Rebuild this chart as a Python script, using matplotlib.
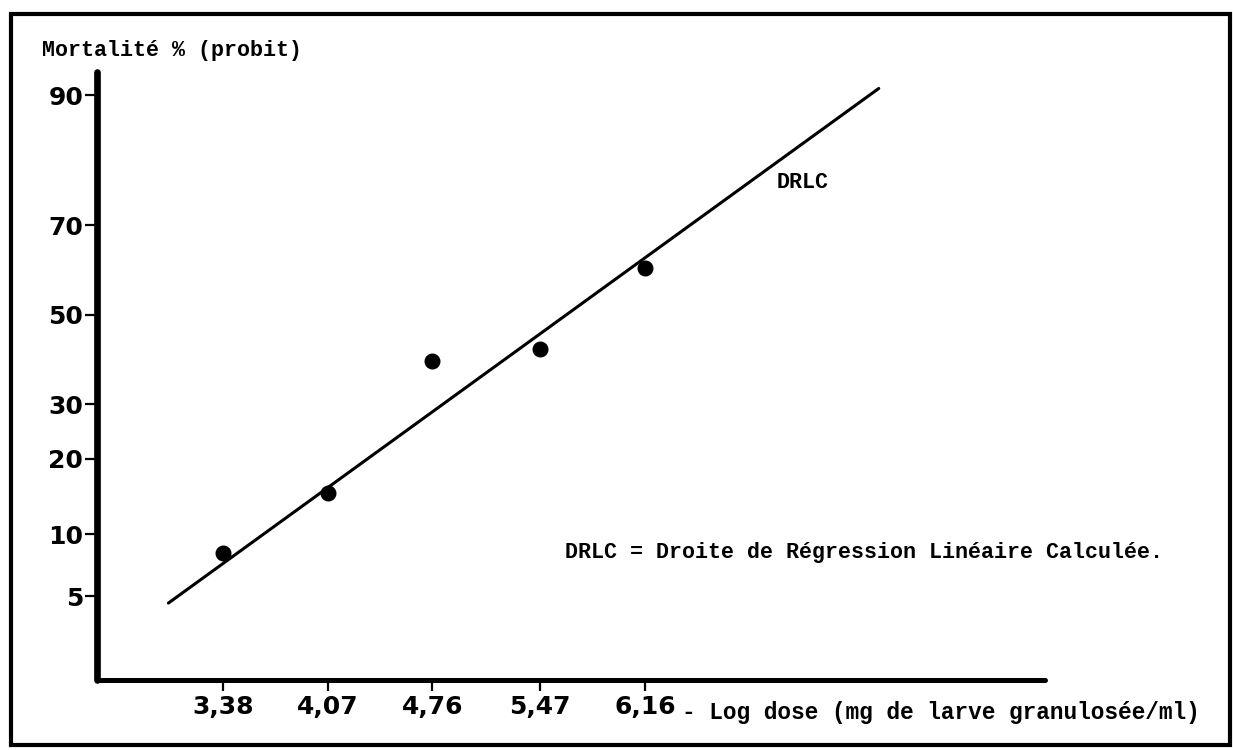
import math
import numpy as np
import matplotlib
matplotlib.use("Agg")
import matplotlib.pyplot as plt
from matplotlib.patches import Rectangle

# data
log_dose = [3.38, 4.07, 4.76, 5.47, 6.16]
dose_labels = ["3,38", "4,07", "4,76", "5,47", "6,16"]
mortality = [8.2, 14.9, 39.4, 42.1, 60.8]  # % mortality

# end points of the calculated regression line (DRLC)
drlc_x = [3.02, 7.70]
drlc_y = [4.6, 90.7]

y_ticks = [5, 10, 20, 30, 50, 70, 90]

# probit scale helpers
_z = np.linspace(-7, 7, 4001)
_erf = np.vectorize(math.erf)
_cdf = 0.5 * (1 + _erf(_z / math.sqrt(2)))


def probit(pct):
    p = np.asarray(pct, dtype=float) / 100.0
    return np.interp(p, _cdf, _z)


def inv_probit(z):
    z = np.asarray(z, dtype=float)
    return 100.0 * 0.5 * (1 + _erf(z / math.sqrt(2)))


mono = "Liberation Mono"
sans = "DejaVu Sans"

fig = plt.figure(figsize=(12.33, 7.5), dpi=100)
ax = fig.add_axes([0.0787, 0.0933, 0.7688, 0.8107])
ax.set_yscale("function", functions=(probit, inv_probit))

ax.plot(drlc_x, drlc_y, color="black", lw=2.2, solid_capstyle="round")
ax.plot(log_dose, mortality, "o", color="black", markersize=10.5)

ax.set_xlim(2.55, 8.795)
ax.set_ylim(1.64, 92.2)

ax.set_xticks(log_dose)
ax.set_xticklabels(dose_labels)
ax.set_yticks(y_ticks)
ax.set_yticklabels([str(v) for v in y_ticks])
ax.minorticks_off()

ax.tick_params(axis="y", direction="out", length=9, width=1.6, pad=1)
ax.tick_params(axis="x", direction="out", length=8, width=1.6, pad=3)
for lab in ax.get_xticklabels() + ax.get_yticklabels():
    lab.set_fontfamily(sans)
    lab.set_fontweight("bold")
    lab.set_fontsize(18)

for side in ["top", "right"]:
    ax.spines[side].set_visible(False)
ax.spines["left"].set_linewidth(4.8)
ax.spines["bottom"].set_linewidth(3.6)
ax.spines["left"].set_capstyle("round")
ax.spines["bottom"].set_capstyle("round")

# axis titles, typewriter style
ax.set_ylabel("Mortalité % (probit)", rotation=0, ha="left", va="center",
              fontfamily=mono, fontweight="bold", fontsize=15.6)
ax.yaxis.set_label_coords(-0.058, 1.036)
ax.set_xlabel("- Log dose (mg de larve granulosée/ml)", ha="left", va="center",
              fontfamily=mono, fontweight="bold", fontsize=16.4)
ax.xaxis.set_label_coords(0.617, -0.054)

ax.text(7.03, 78.0, "DRLC", fontfamily=mono, fontweight="bold", fontsize=15.6,
        ha="left", va="center")
ax.text(5.63, 8.2, "DRLC = Droite de Régression Linéaire Calculée.",
        fontfamily=mono, fontweight="bold", fontsize=15.6, ha="left", va="center")

# outer frame of the scanned page
fig.add_artist(Rectangle((11 / 1233, 5 / 750), 1219 / 1233, 731 / 750,
                         transform=fig.transFigure, fill=False,
                         edgecolor="black", lw=3))

fig.savefig("out.png", dpi=100)
